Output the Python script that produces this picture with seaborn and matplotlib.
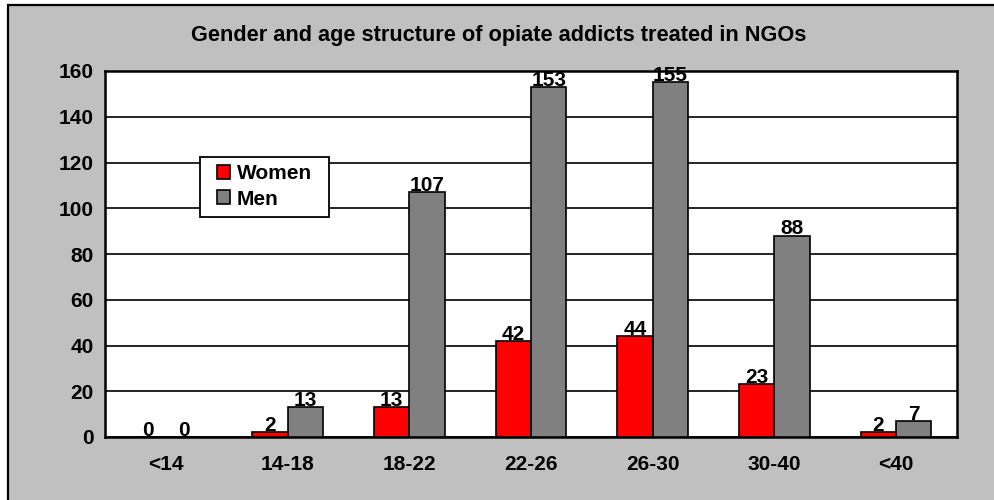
import seaborn as sns
import pandas as pd
import matplotlib.pyplot as plt
from matplotlib import font_manager
from matplotlib.patches import Rectangle
from matplotlib.ticker import FixedLocator

age_groups = ["<14", "14-18", "18-22", "22-26", "26-30", "30-40", "<40"]
women = [0, 2, 13, 42, 44, 23, 2]
men = [0, 13, 107, 153, 155, 88, 7]

df = pd.DataFrame({
    "Age": age_groups * 2,
    "Count": women + men,
    "Gender": ["Women"] * len(age_groups) + ["Men"] * len(age_groups),
})

# pick a family that really has a bold face
family = "DejaVu Sans"
for cand in ["Liberation Sans", "Roboto", "Noto Sans", "Open Sans"]:
    faces = [f for f in font_manager.fontManager.ttflist
             if f.name == cand and f.weight in (700, "bold") and f.style == "normal"]
    if faces:
        family = cand
        break

sns.set_style("white")
plt.rcParams["font.family"] = [family, "DejaVu Sans"]
plt.rcParams["font.weight"] = "bold"
plt.rcParams["text.color"] = "black"
plt.rcParams["xtick.color"] = "black"
plt.rcParams["ytick.color"] = "black"

fs = 15

fig = plt.figure(figsize=(9.95, 5), dpi=100)
fig.patch.set_facecolor("white")
fig.patches.append(Rectangle((8 / 995, -0.1), 1.2, 1 - 5 / 500 + 0.1, transform=fig.transFigure,
                             facecolor="#C0C0C0", edgecolor="black", linewidth=1.6, zorder=-10))
ax = fig.add_axes([105 / 995, 1 - 437 / 500, (957 - 105) / 995, (437 - 71) / 500])
ax.set_facecolor("white")

sns.barplot(data=df, x="Age", y="Count", hue="Gender", palette=["#FF0000", "#808080"],
            width=0.58, edgecolor="black", linewidth=1.2, saturation=1, ax=ax, zorder=3)

for cont in ax.containers:
    ax.bar_label(cont, fontsize=fs, fontweight="bold", color="black", padding=-2, zorder=5)

ax.set_ylim(0, 160)
ax.set_xlim(-0.5, 6.5)
ax.set_yticks(range(0, 161, 20))
ax.yaxis.grid(True, color="black", linewidth=1.2, zorder=0)
ax.set_axisbelow(True)
ax.xaxis.set_minor_locator(FixedLocator([i - 0.5 for i in range(8)]))
ax.tick_params(axis="x", which="major", length=0, pad=13, labelsize=fs)
ax.tick_params(axis="x", which="minor", length=6, width=1.5, color="black", direction="out")
ax.tick_params(axis="y", length=6, width=1.5, color="black", direction="out", labelsize=fs, pad=2)
for lab in ax.get_xticklabels() + ax.get_yticklabels():
    lab.set_fontweight("bold")
ax.set_xlabel("")
ax.set_ylabel("")
for s in ax.spines.values():
    s.set_color("black")
    s.set_linewidth(1.8)
    s.set_visible(True)

fig.text(0.501, 1 - 36 / 500, "Gender and age structure of opiate addicts treated in NGOs",
         ha="center", va="center", fontsize=15.7, fontweight="bold", color="black")

# legend without frame, then a wider box drawn around it (Excel-style padding)
leg = ax.legend(loc="upper left", bbox_to_anchor=(0.1228, 0.765), fontsize=fs, frameon=False,
                handlelength=0.65, handleheight=0.65, handletextpad=0.3,
                borderpad=0.35, labelspacing=0.3, borderaxespad=0)
for t in leg.get_texts():
    t.set_fontweight("bold")
    t.set_color("black")
for h in leg.legend_handles:
    h.set_edgecolor("black")
    h.set_linewidth(1.2)

fig.canvas.draw()
bb = leg.get_window_extent().transformed(fig.transFigure.inverted())
padx = 10 / 995
pady = 1 / 500
fig.add_artist(Rectangle((bb.x0 - padx, bb.y0 - pady), bb.width + 2 * padx, bb.height + pady,
                         transform=fig.transFigure, facecolor="white", edgecolor="black",
                         linewidth=1.3, zorder=4))
leg.remove()
fig.add_artist(leg)
leg.set_zorder(5)

fig.savefig("out.png", dpi=100)
